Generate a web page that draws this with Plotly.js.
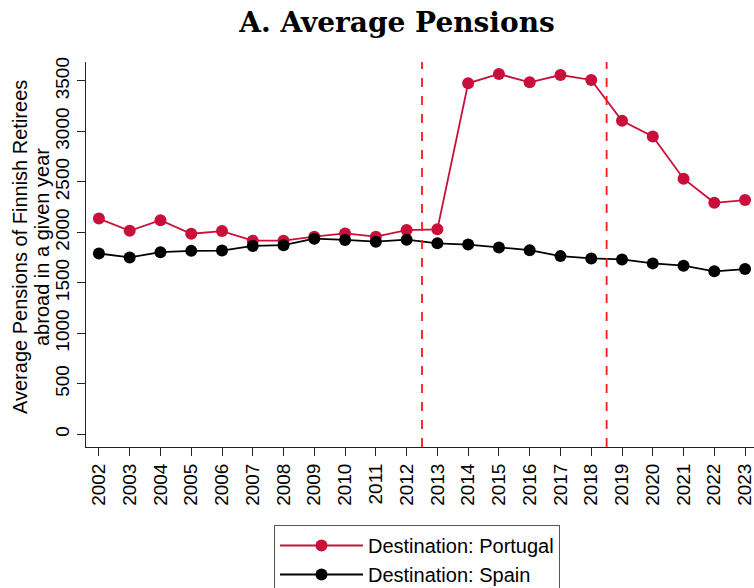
<!DOCTYPE html>
<html>
<head>
<meta charset="utf-8">
<script src="https://cdn.plot.ly/plotly-3.0.1.min.js"></script>
<style>
  html, body { margin: 0; padding: 0; background: #fff; }
  #chart { width: 754px; height: 588px; }
</style>
</head>
<body>
<div id="chart"></div>
<script>
const years = [2002, 2003, 2004, 2005, 2006, 2007, 2008, 2009, 2010, 2011, 2012,
               2013, 2014, 2015, 2016, 2017, 2018, 2019, 2020, 2021, 2022, 2023];
const portugal = [2137, 2016, 2121, 1987, 2013, 1918, 1918, 1958, 1990, 1958, 2023,
                  2030, 3477, 3569, 3487, 3559, 3510, 3106, 2951, 2532, 2293, 2320];
const spain = [1791, 1752, 1804, 1817, 1820, 1866, 1873, 1938, 1925, 1908, 1928,
               1892, 1879, 1850, 1824, 1765, 1742, 1732, 1693, 1670, 1614, 1637];
const breaks = [2012.5, 2018.5];
const yTicks = [0, 500, 1000, 1500, 2000, 2500, 3000, 3500];
const xTickLabels = years.map(String);
const yTitleLines = ["Average Pensions of Finnish Retirees", "abroad in a given year"];

const sans = "Liberation Sans, Arial, sans-serif";
const red = "rgb(200,16,58)";

const traces = [
  {
    x: years, y: portugal, name: "Destination: Portugal",
    type: "scatter", mode: "lines+markers", cliponaxis: false,
    line: { color: red, width: 1.8 },
    marker: { color: red, size: 12 }
  },
  {
    x: years, y: spain, name: "Destination: Spain",
    type: "scatter", mode: "lines+markers", cliponaxis: false,
    line: { color: "#000", width: 1.8 },
    marker: { color: "#000", size: 12 }
  }
];

const shapes = breaks.map(b => ({
  type: "line", xref: "x", yref: "paper",
  x0: b, x1: b, y0: 0, y1: 1,
  line: { color: "#ff1a1a", width: 1.8, dash: "dash" }
}));

// y-axis title as two rotated lines (px positions in container coords)
const titleX = [20, 42];
const annotations = yTitleLines.map((t, i) => ({
  text: t, textangle: -90, showarrow: false,
  xref: "paper", yref: "paper",
  x: (titleX[i] - 86) / 668, y: (447 - 247) / 385,
  xanchor: "center", yanchor: "middle",
  font: { family: sans, size: 20, color: "#000" }
}));

const layout = {
  width: 754, height: 588,
  margin: { l: 86, r: 0, t: 62, b: 141, autoexpand: false },
  paper_bgcolor: "#fff", plot_bgcolor: "#fff",
  font: { family: sans, color: "#000", size: 18 },
  title: {
    text: "<b>A. Average Pensions</b>",
    font: { family: "DejaVu Serif, serif", size: 28, color: "#000" },
    x: 397 / 754, xanchor: "center", xref: "container",
    y: 1 - 22 / 588, yanchor: "middle"
  },
  xaxis: {
    range: [2001.58, 2023.29],
    automargin: false,
    tickmode: "array", tickvals: years, ticktext: xTickLabels,
    tickangle: -90, ticklabeloverflow: "allow",
    ticks: "outside", ticklen: 8, tickwidth: 1, tickcolor: "#222",
    showline: true, linecolor: "#222", linewidth: 1,
    showgrid: false, zeroline: false,
    tickfont: { family: sans, size: 19, color: "#000" }
  },
  yaxis: {
    range: [-126, 3688],
    automargin: false,
    tickmode: "array", tickvals: yTicks,
    tickangle: -90,
    ticks: "outside", ticklen: 8, tickwidth: 1, tickcolor: "#222",
    showline: true, linecolor: "#222", linewidth: 1,
    showgrid: false, zeroline: false,
    tickfont: { family: sans, size: 19, color: "#000" }
  },
  showlegend: true,
  legend: {
    xref: "container", yref: "container",
    x: 274 / 754, xanchor: "left", y: 1 - 525 / 588, yanchor: "top",
    bordercolor: "#555", borderwidth: 1, bgcolor: "#fff",
    font: { family: sans, size: 20, color: "#000" },
    itemwidth: 83,
    tracegroupgap: 0
  },
  annotations: annotations,
  shapes: shapes
};

Plotly.newPlot("chart", traces, layout, { displayModeBar: false, staticPlot: true });
</script>
</body>
</html>
